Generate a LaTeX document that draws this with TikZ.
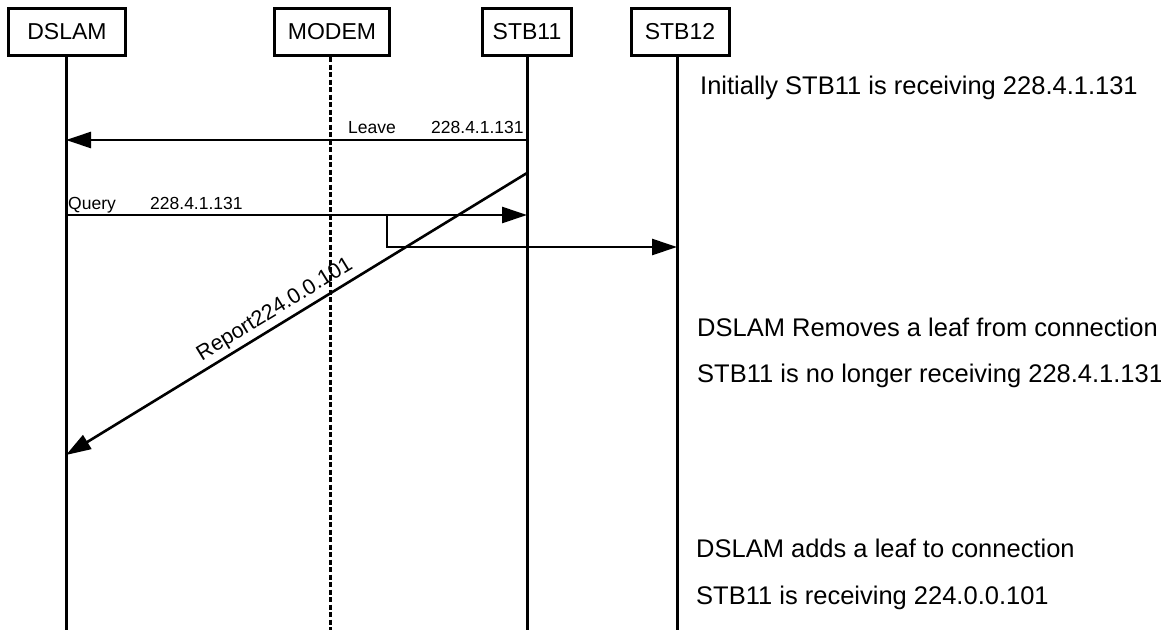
\documentclass[tikz,border=0pt]{standalone}
\usepackage{fontspec}
\setmainfont{Liberation Sans}
\usetikzlibrary{arrows.meta}

\begin{document}
\begin{tikzpicture}[x=1pt, y=-1pt,
    actor/.style={draw, line width=3pt, minimum height=47pt, inner sep=0pt, font=\fontsize{23}{27}\selectfont},
    life/.style={line width=3pt},
    proxy/.style={life, dash pattern=on 5pt off 2.5pt},
    msg/.style={-{Triangle[length=25pt,width=16pt]}, line width=2.6pt},
    lbl/.style={font=\fontsize{17.5}{20}\selectfont, inner sep=0pt, anchor=base west},
    note/.style={font=\fontsize{25.5}{30}\selectfont, inner sep=0pt, anchor=base west}
]
\useasboundingbox (0,0) rectangle (1161,630);

% Cabeceras
\node[actor, minimum width=117pt] (dslam) at (67,32) {DSLAM};
\node[actor, minimum width=115pt] (modem) at (332,32) {MODEM};
\node[actor, minimum width=89pt] (stb11) at (527,32) {STB11};
\node[actor, minimum width=98pt] (stb12) at (680,32) {STB12};

% Lineas de vida
\coordinate (dslamend) at (66,630);
\coordinate (modemend) at (330,630);
\coordinate (stb11end) at (527,630);
\coordinate (stb12end) at (677,630);
\draw[life] (dslam.south -| dslamend) -- (dslamend);
\draw[proxy] (modem.south -| modemend) -- (modemend);
\draw[life] (stb11.south -| stb11end) -- (stb11end);
\draw[life] (stb12.south -| stb12end) -- (stb12end);

% Puntos de los mensajes
\coordinate (leavefrom) at (527,140);
\coordinate (leaveto) at (66,140);
\coordinate (queryfrom) at (66,215);
\coordinate (queryto) at (527,215);
\coordinate (fork) at (387,215);
\coordinate (stb12in) at (677,247);
\coordinate (reportfrom) at (527,173);
\coordinate (reportto) at (66,455);

% Mensajes
\draw[msg] (leavefrom) -- (leaveto);
\draw[msg] (queryfrom) -- (queryto);
\draw[msg] (fork) |- (stb12in);
\draw[msg] (reportfrom) -- node[sloped, above, pos=0.53, inner sep=3.5pt, font=\fontsize{21.5}{24}\selectfont] (reporttxt) {Report224.0.0.101} (reportto);

% Etiquetas
\node[lbl] (leavetxt) at (348,133) {Leave};
\node[lbl] (leaveip) at (431,133) {228.4.1.131};
\node[lbl] (querytxt) at (68,209) {Query};
\node[lbl] (queryip) at (150,209) {228.4.1.131};

% Notas
\node[note] (note1) at (700,94) {Initially STB11 is receiving 228.4.1.131};
\node[note] (note2) at (697,336) {DSLAM Removes a leaf from connection};
\node[note] (note3) at (697,382) {STB11 is no longer receiving 228.4.1.131};
\node[note] (note4) at (696,557) {DSLAM adds a leaf to connection};
\node[note] (note5) at (696,604) {STB11 is receiving 224.0.0.101};

\end{tikzpicture}
\end{document}
